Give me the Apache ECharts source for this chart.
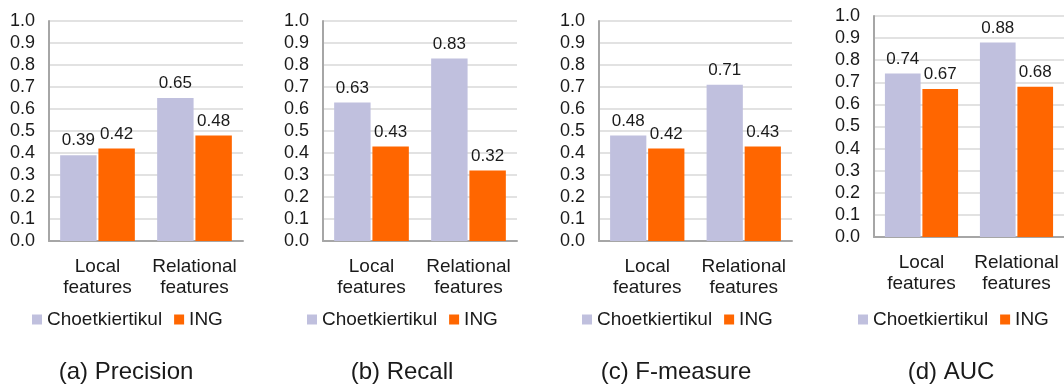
<!DOCTYPE html>
<html>
<head>
<meta charset="utf-8">
<script src="https://cdn.jsdelivr.net/npm/echarts@6/dist/echarts.min.js"></script>
<style>
html,body{margin:0;padding:0;background:#fff;}
#chart{width:1064px;height:386px;}
</style>
</head>
<body>
<div id="chart"></div>
<script>
// ---- data ----
var categories = ['Local features', 'Relational features'];
var seriesNames = ['Choetkiertikul', 'ING'];
var panelTitles = ['(a) Precision', '(b) Recall', '(c) F-measure', '(d) AUC'];
var precisionChoet = [0.39, 0.65];
var precisionING = [0.42, 0.48];
var recallChoet = [0.63, 0.83];
var recallING = [0.43, 0.32];
var fmeasureChoet = [0.48, 0.71];
var fmeasureING = [0.42, 0.43];
var aucChoet = [0.74, 0.88];
var aucING = [0.67, 0.68];
var yTickValues = [0.0, 0.1, 0.2, 0.3, 0.4, 0.5, 0.6, 0.7, 0.8, 0.9, 1.0];

// ---- layout / style ----
var panelValues = [
  [precisionChoet, precisionING],
  [recallChoet, recallING],
  [fmeasureChoet, fmeasureING],
  [aucChoet, aucING]
];
var grids = [
  {left: 49, top: 21, width: 194, height: 220},
  {left: 323, top: 21, width: 194, height: 220},
  {left: 599, top: 21, width: 193, height: 220},
  {left: 874, top: 16, width: 194, height: 221}
];
var legendLeft = [32, 307, 582, 858];
var legendTop = [310, 310, 310, 310];
var titleCenter = [126, 402, 676, 951];
var colors = ['#c0c0de', '#ff6600'];
var FONT = 'Liberation Sans, Arial, sans-serif';
var TEXT = '#1a1a1a';
var AXIS = '#a6a6a6';

var option = {
  animation: false,
  textStyle: {fontFamily: FONT},
  grid: [], xAxis: [], yAxis: [], series: [], legend: [], title: []
};

for (var p = 0; p < 4; p++) {
  option.grid.push({left: grids[p].left, top: grids[p].top, width: grids[p].width, height: grids[p].height, containLabel: false});
  option.xAxis.push({
    type: 'category', gridIndex: p, data: categories,
    axisLine: {show: true, lineStyle: {color: AXIS, width: 2}},
    axisTick: {show: false},
    axisLabel: {
      fontFamily: FONT, fontSize: 19, lineHeight: 21, color: TEXT, margin: 15,
      interval: 0,
      formatter: function (v) { return v.replace(' ', '\n'); }
    }
  });
  option.yAxis.push({
    type: 'value', gridIndex: p, min: 0, max: 1, interval: 0.1,
    axisLine: {show: true, lineStyle: {color: AXIS, width: 2}},
    axisTick: {show: false},
    splitLine: {show: true, lineStyle: {color: '#d9d9d9', width: 1.5}},
    axisLabel: {
      fontFamily: FONT, fontSize: 18, color: TEXT, margin: 14,
      formatter: function (v) { return v.toFixed(1); }
    }
  });
  for (var s = 0; s < 2; s++) {
    option.series.push({
      type: 'bar', name: seriesNames[s], xAxisIndex: p, yAxisIndex: p,
      data: panelValues[p][s],
      itemStyle: {color: colors[s]},
      barCategoryGap: '23%', barGap: '5%',
      label: {
        show: true, position: 'top', distance: 6,
        fontFamily: FONT, fontSize: 17, color: TEXT,
        formatter: function (d) { return d.value.toFixed(2); }
      }
    });
  }
  option.legend.push({
    left: legendLeft[p], top: legendTop[p], padding: 0,
    orient: 'horizontal', itemWidth: 10, itemHeight: 10, itemGap: 12,
    selectedMode: false,
    data: seriesNames.map(function (n, i) { return {name: n, icon: 'rect', itemStyle: {color: colors[i]}}; }),
    textStyle: {fontFamily: FONT, fontSize: 19, color: TEXT, padding: [0, 0, 0, 0]}
  });
  option.title.push({
    text: panelTitles[p], left: titleCenter[p], top: 360, padding: 0,
    textAlign: 'center',
    textStyle: {fontFamily: FONT, fontSize: 24, fontWeight: 'normal', color: TEXT}
  });
}

var chart = echarts.init(document.getElementById('chart'), null, {renderer: 'canvas'});
chart.setOption(option);
</script>
</body>
</html>
